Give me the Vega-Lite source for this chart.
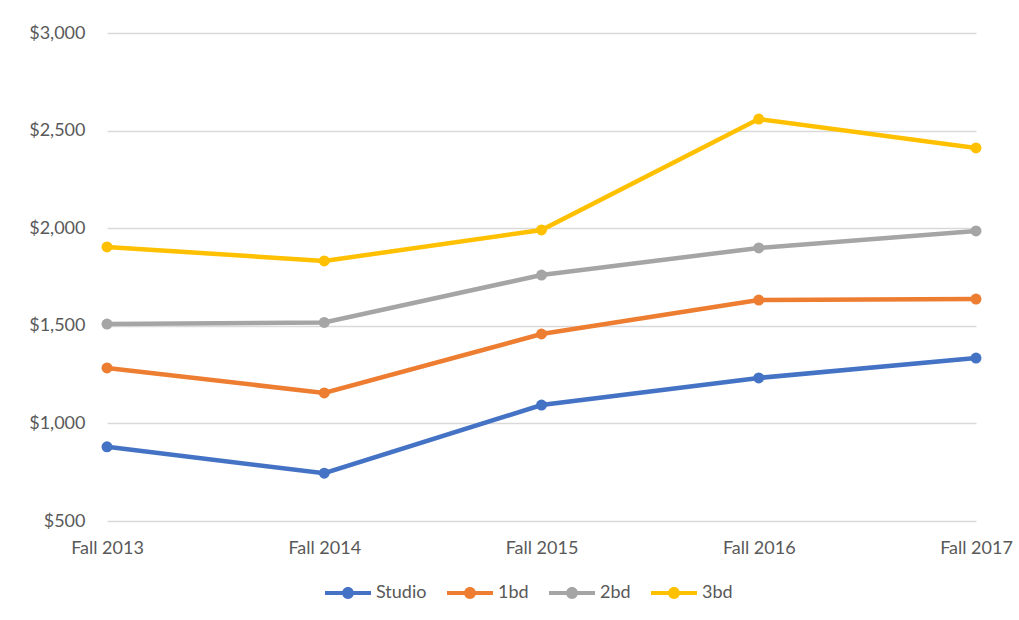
{
  "$schema": "https://vega.github.io/schema/vega-lite/v6.json",
  "width": 869,
  "height": 488,
  "autosize": {"type": "none"},
  "padding": {"left": 107, "top": 33, "right": 43, "bottom": 99},
  "background": "white",
  "config": {
    "view": {"stroke": null},
    "font": "Lato"
  },
  "data": {
    "values": [
      {"term": "Fall 2013", "type": "Studio", "rent": 880},
      {"term": "Fall 2014", "type": "Studio", "rent": 745},
      {"term": "Fall 2015", "type": "Studio", "rent": 1094},
      {"term": "Fall 2016", "type": "Studio", "rent": 1233},
      {"term": "Fall 2017", "type": "Studio", "rent": 1335},
      {"term": "Fall 2013", "type": "1bd", "rent": 1284},
      {"term": "Fall 2014", "type": "1bd", "rent": 1156},
      {"term": "Fall 2015", "type": "1bd", "rent": 1458},
      {"term": "Fall 2016", "type": "1bd", "rent": 1632},
      {"term": "Fall 2017", "type": "1bd", "rent": 1637},
      {"term": "Fall 2013", "type": "2bd", "rent": 1509},
      {"term": "Fall 2014", "type": "2bd", "rent": 1517},
      {"term": "Fall 2015", "type": "2bd", "rent": 1760},
      {"term": "Fall 2016", "type": "2bd", "rent": 1899},
      {"term": "Fall 2017", "type": "2bd", "rent": 1986},
      {"term": "Fall 2013", "type": "3bd", "rent": 1904},
      {"term": "Fall 2014", "type": "3bd", "rent": 1832},
      {"term": "Fall 2015", "type": "3bd", "rent": 1991},
      {"term": "Fall 2016", "type": "3bd", "rent": 2559},
      {"term": "Fall 2017", "type": "3bd", "rent": 2411}
    ]
  },
  "mark": {"type": "line", "strokeWidth": 4.5, "point": {"size": 120, "filled": true, "opacity": 1}},
  "encoding": {
    "x": {
      "field": "term", "type": "ordinal", "title": null,
      "scale": {"type": "point", "padding": 0},
      "axis": {"labelAngle": 0, "domain": false, "ticks": false, "grid": false, "labelPadding": 18,
               "labelFont": "Lato", "labelFontSize": 18, "labelColor": "#595959"}
    },
    "y": {
      "field": "rent", "type": "quantitative", "title": null,
      "scale": {"domain": [500, 3000], "nice": false, "zero": false},
      "axis": {"values": [500, 1000, 1500, 2000, 2500, 3000], "format": "$,.0f", "domain": false, "ticks": false, "grid": true, "gridColor": "#d9d9d9", "gridWidth": 1.3, "labelPadding": 22,
               "labelFont": "Lato", "labelFontSize": 18, "labelColor": "#595959"}
    },
    "color": {
      "field": "type", "type": "nominal", "title": null,
      "sort": ["Studio", "1bd", "2bd", "3bd"],
      "scale": {"domain": ["Studio", "1bd", "2bd", "3bd"], "range": ["#4472C4", "#ED7D31", "#A5A5A5", "#FFC000"]},
      "legend": {
        "orient": "none",
        "legendX": 218,
        "legendY": 537,
        "direction": "horizontal",
        "symbolType": "M-1,-0.09 L1,-0.09 L1,0.09 L-1,0.09 Z M-0.26,0 A0.26,0.26 0 1,1 0.26,0 A0.26,0.26 0 1,1 -0.26,0 Z",
        "symbolSize": 2116,
        "labelOffset": 5,
        "columnPadding": 20,
        "labelFont": "Lato",
        "labelFontSize": 18,
        "labelColor": "#595959",
        "encode": {
          "symbols": {
            "update": {
              "fill": {"scale": "color", "field": "value"},
              "stroke": {"scale": "color", "field": "value"},
              "strokeWidth": {"value": 0},
              "opacity": {"value": 1}
            }
          }
        }
      }
    }
  }
}
